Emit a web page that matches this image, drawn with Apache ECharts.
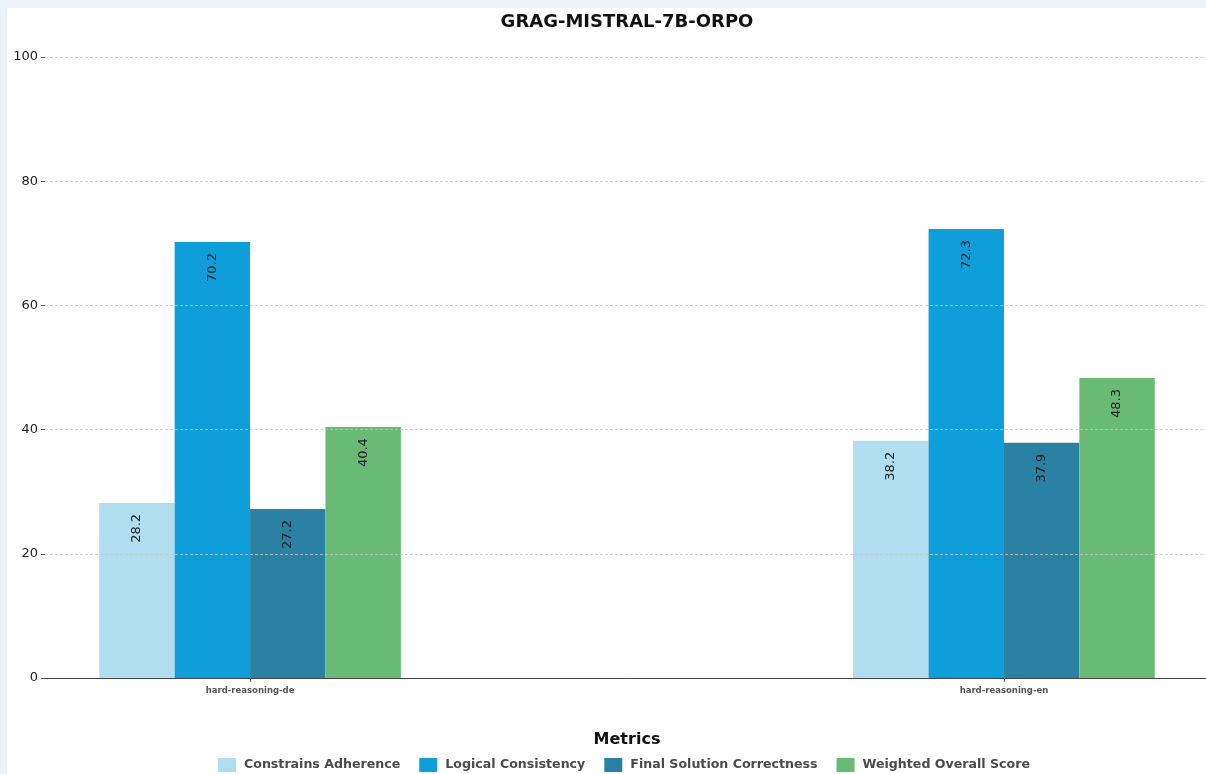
<!DOCTYPE html>
<html>
<head>
<meta charset="utf-8">
<script src="https://cdn.jsdelivr.net/npm/echarts@6/dist/echarts.min.js"></script>
<style>
html,body{margin:0;padding:0;width:1206px;height:774px;background:#eaf1f9;overflow:hidden;}
#bg{position:absolute;left:7px;top:8px;width:1199px;height:766px;background:#ffffff;}
#chart{position:absolute;left:0;top:0;width:1206px;height:774px;}
</style>
</head>
<body>
<div id="bg"></div>
<div id="chart"></div>
<script>
const categories = ['hard-reasoning-de', 'hard-reasoning-en'];
const seriesNames = ['Constrains Adherence', 'Logical Consistency', 'Final Solution Correctness', 'Weighted Overall Score'];
const constrainsAdherence = [28.2, 38.2];
const logicalConsistency = [70.2, 72.3];
const finalSolutionCorrectness = [27.2, 37.9];
const weightedOverallScore = [40.4, 48.3];
const yTicks = [0, 20, 40, 60, 80, 100];
const colors = ['#b0ddef', '#0e9fda', '#2a81a4', '#69ba75'];
const allValues = [constrainsAdherence, logicalConsistency, finalSolutionCorrectness, weightedOverallScore];

const chart = echarts.init(document.getElementById('chart'), null, {renderer: 'canvas'});
const boldFont = '"DejaVu Sans", sans-serif';
const tickFont = '"DejaVu Sans", sans-serif';

const series = seriesNames.map((name, i) => ({
  name: name,
  type: 'bar',
  barWidth: 75.4,
  barGap: '0%',
  data: allValues[i].map((v, j) => [j, v]),
  itemStyle: {color: colors[i]},
  label: {
    show: true,
    position: 'insideTop',
    rotate: 90,
    align: 'right',
    verticalAlign: 'middle',
    distance: 11,
    fontFamily: tickFont,
    fontSize: 13,
    color: '#222',
    formatter: p => p.value[1].toFixed(1)
  },
  z: 2
}));

chart.setOption({
  animation: false,
  grid: {left: 45, right: 0, top: 57, bottom: 96, containLabel: false},
  xAxis: {
    type: 'value',
    min: -0.272,
    max: 1.268,
    z: 4,
    axisLine: {show: true, onZero: false, lineStyle: {color: '#444', width: 1}},
    axisTick: {show: true, customValues: [0, 1], length: 4, lineStyle: {color: '#666'}},
    axisLabel: {
      show: true,
      customValues: [0, 1],
      formatter: v => categories[Math.round(v)] || '',
      fontFamily: boldFont,
      fontWeight: 'bold',
      fontSize: 8.5,
      color: '#555',
      margin: 8
    },
    splitLine: {show: false}
  },
  yAxis: {
    type: 'value',
    min: 0,
    max: 100,
    interval: 20,
    z: 3,
    axisLine: {show: false, onZero: false},
    axisTick: {show: true, length: 4, lineStyle: {color: '#555'}},
    axisLabel: {fontFamily: tickFont, fontSize: 13, color: '#222', margin: 7,
      formatter: v => yTicks.includes(v) ? String(v) : ''},
    splitLine: {show: true, lineStyle: {color: '#c4c4c4', type: [3, 2], width: 0.8}}
  },
  legend: {
    data: seriesNames,
    left: 213,
    top: 753,
    itemWidth: 18,
    itemHeight: 14,
    itemGap: 19,
    icon: 'rect',
    textStyle: {fontFamily: boldFont, fontWeight: 'bold', fontSize: 12.6, color: '#4a4a4a', padding: [0, 0, 0, 3]}
  },
  graphic: [
    {type: 'text', x: 627, y: 22, style: {text: 'GRAG-MISTRAL-7B-ORPO', textAlign: 'center', textVerticalAlign: 'middle',
      font: 'bold 18px ' + boldFont, fill: '#111'}},
    {type: 'text', x: 627, y: 740, style: {text: 'Metrics', textAlign: 'center', textVerticalAlign: 'middle',
      font: 'bold 16px ' + boldFont, fill: '#111'}}
  ],
  series: series
});
</script>
</body>
</html>
